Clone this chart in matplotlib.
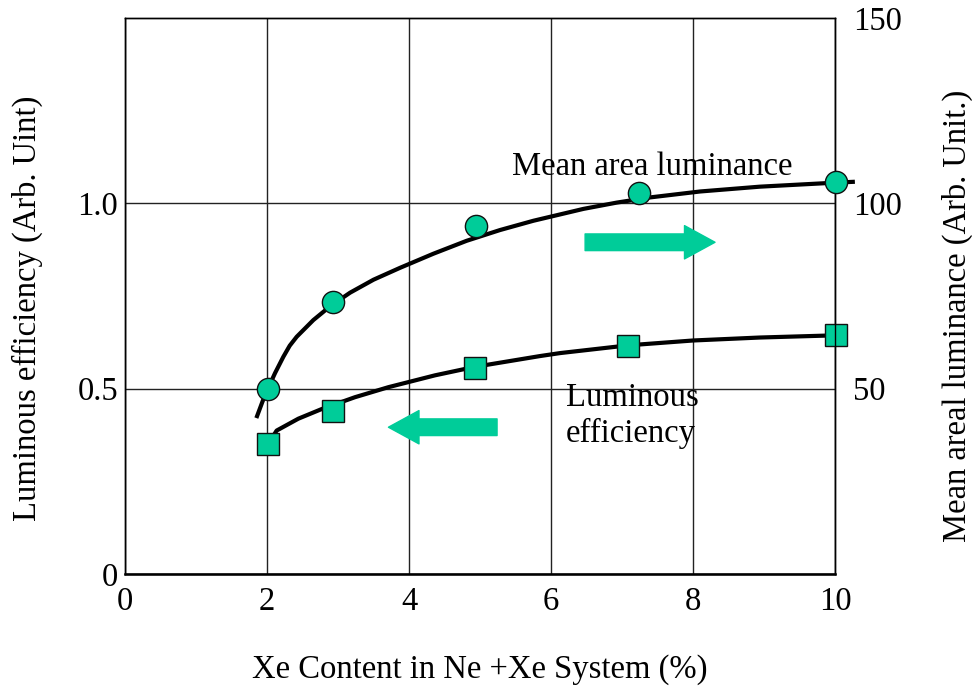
import matplotlib
matplotlib.use("Agg")
import matplotlib.pyplot as plt

plt.rcParams['font.family'] = ['Liberation Serif', 'DejaVu Serif']

# measured points
xe_lum = [2.02, 2.93, 4.94, 7.24, 10.01]          # mean area luminance (right axis)
lum = [49.9, 73.5, 93.8, 102.8, 105.7]
xe_eff = [2.02, 2.93, 4.93, 7.09, 10.01]          # luminous efficiency (left axis)
eff = [0.351, 0.441, 0.557, 0.616, 0.645]

# trend curves
lum_curve_x = [1.86, 1.94, 2.02, 2.113, 2.23, 2.32, 2.418, 2.652, 2.887, 3.17, 3.50,
               3.873, 4.342, 4.812, 5.282, 5.751, 6.455, 6.925, 7.394, 8.099, 8.94,
               10.02, 10.25]
lum_curve_y = [42.6, 46.7, 50.3, 54.2, 58.6, 61.6, 64.0, 68.5, 72.2, 75.9, 79.4,
               82.6, 86.4, 89.9, 92.8, 95.3, 98.5, 100.2, 101.6, 103.2, 104.5,
               105.6, 105.8]
eff_curve_x = [2.02, 2.136, 2.441, 2.770, 3.239, 3.709, 4.366, 4.93, 5.845, 6.127,
               7.09, 8.0, 8.94, 10.02]
eff_curve_y = [0.352, 0.387, 0.419, 0.445, 0.477, 0.504, 0.536, 0.559, 0.588, 0.596,
               0.617, 0.630, 0.638, 0.644]

green = '#00CC99'
fs = 23.5

fig = plt.figure(figsize=(9.72, 6.88), dpi=100)
ax = fig.add_axes([0.1286, 0.1657, 0.7305, 0.8081])
ax2 = ax.twinx()

ax.set_xlim(0, 10)
ax.set_ylim(0, 1.5)
ax2.set_ylim(0, 150)

ax.set_xticks([0, 2, 4, 6, 8, 10])
ax.set_yticks([0, 0.5, 1.0])
ax.set_yticklabels(['0', '0.5', '1.0'])
ax2.set_yticks([50, 100, 150])
ax.tick_params(length=0, labelsize=fs, pad=5)
ax.tick_params(axis='x', pad=9)
ax2.tick_params(length=0, labelsize=fs, pad=13)

for a in (ax, ax2):
    for s in a.spines.values():
        s.set_linewidth(1.0)
ax.spines['bottom'].set_linewidth(1.8)

ax.grid(True, color='#222222', linewidth=1.0)
ax.set_axisbelow(True)

ax.plot(eff_curve_x, eff_curve_y, color='black', lw=3, zorder=3)
ax.plot(xe_eff, eff, linestyle='none', marker='s', markersize=16,
        markerfacecolor=green, markeredgecolor='#111111', markeredgewidth=1, zorder=4,
        clip_on=False)

ax2.plot(lum_curve_x, lum_curve_y, color='black', lw=3, zorder=3, clip_on=False)
ax2.plot(xe_lum, lum, linestyle='none', marker='o', markersize=16,
         markerfacecolor=green, markeredgecolor='#111111', markeredgewidth=1, zorder=4,
         clip_on=False)

ax.set_xlabel('Xe Content in Ne +Xe System (%)', fontsize=fs, labelpad=27)
ax.set_ylabel('Luminous efficiency (Arb. Uint)', fontsize=fs)
ax.yaxis.set_label_coords(-0.115, 0.478)
ax2.set_ylabel('Mean areal luminance (Arb. Unit.)', fontsize=fs)
ax2.yaxis.set_label_coords(1.15, 0.465)

ax.text(5.45, 1.099, 'Mean area luminance', fontsize=fs, va='center', ha='left')
ax.text(6.21, 0.428, 'Luminous\nefficiency', fontsize=fs, va='center', ha='left',
        linespacing=1.2)

arrow = dict(arrowstyle='simple,head_length=22,head_width=24,tail_width=12',
             mutation_scale=1, color=green, shrinkA=0, shrinkB=0)
ax.annotate('', xy=(8.31, 0.895), xytext=(6.48, 0.895), arrowprops=arrow)
ax.annotate('', xy=(3.71, 0.396), xytext=(5.24, 0.396), arrowprops=arrow)

fig.savefig('out.png', dpi=100)
